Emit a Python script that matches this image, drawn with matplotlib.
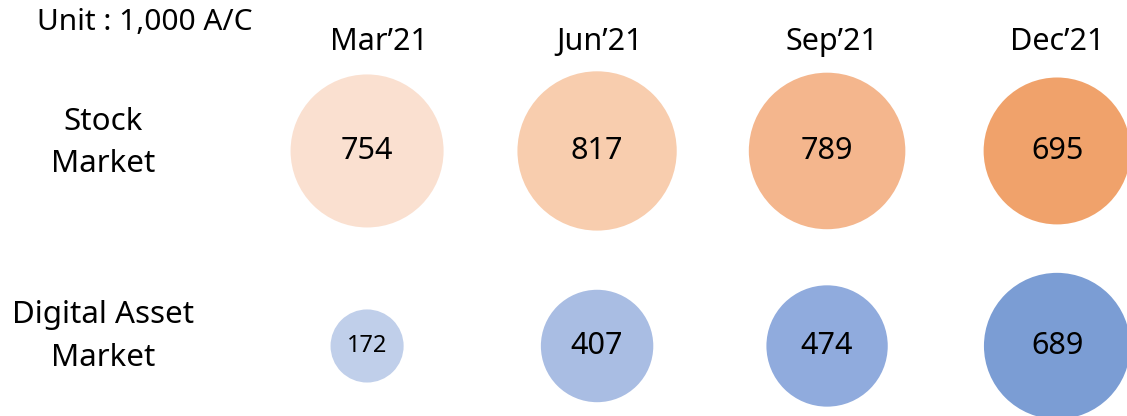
import numpy as np
import matplotlib.pyplot as plt

plt.rcParams['font.family'] = ['Noto Sans', 'DejaVu Sans']

periods = ["Mar\u201921", "Jun\u201921", "Sep\u201921", "Dec\u201921"]
rows = ["Stock\nMarket", "Digital Asset\nMarket"]
stock = [754, 817, 789, 695]
digital = [172, 407, 474, 689]

stock_colors = ['#fae0d0', '#f8cdae', '#f4b68d', '#f0a26b']
digital_colors = ['#c0cfea', '#a9bde3', '#90abdd', '#7b9dd4']

fig = plt.figure(figsize=(11.27, 4.16), dpi=100)
ax = fig.add_axes([0, 0, 1, 1])
ax.set_xlim(-1.596, 3.304)
ax.set_ylim(1.359, -0.774)
ax.axis('off')

xs = np.arange(len(periods))
scale = 16.1  # marker area per 1,000 accounts

for row, (vals, cols) in enumerate([(stock, stock_colors), (digital, digital_colors)]):
    ax.scatter(xs, [row] * len(xs), s=np.array(vals) * scale, c=cols,
               edgecolors='none', zorder=2)
    for x, v in zip(xs, vals):
        fs = 17 if v < 300 else 22
        ax.text(x, row, str(v), ha='center', va='center', fontsize=fs, zorder=3)

row_offset = [-0.04, -0.05]
for row, lab in enumerate(rows):
    ax.text(-1.148, row + row_offset[row], lab, ha='center', va='center',
            fontsize=22.5, linespacing=1.55)

header_x = [0.05, 0.01, 0.02, 0.0]
for x, p in zip(xs, periods):
    ax.text(x + header_x[x], -0.56, p, ha='center', va='center', fontsize=22)

fig.text(37 / 1127, 1 - 23 / 416, "Unit : 1,000 A/C", ha='left', va='center',
         fontsize=21.5)

fig.savefig('out.png', dpi=100)
